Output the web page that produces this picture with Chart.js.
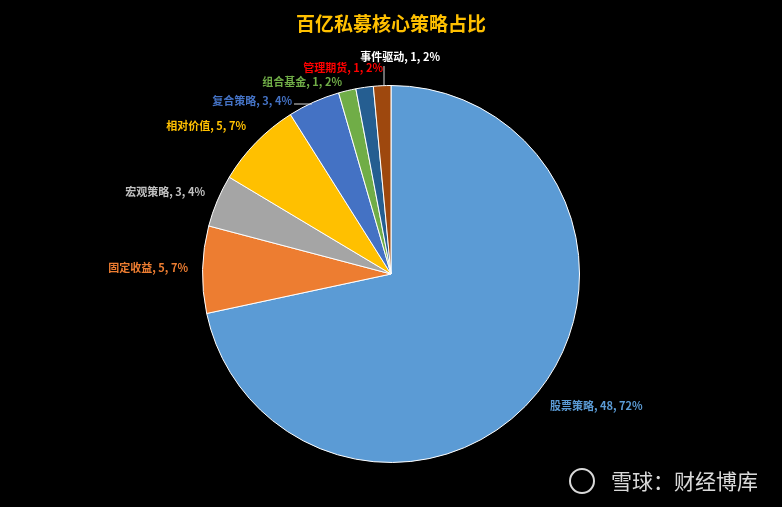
<!DOCTYPE html>
<html><head><meta charset="utf-8">
<script src="https://cdn.jsdelivr.net/npm/chart.js@4"></script>
<style>html,body{margin:0;background:#000;}#w{width:782px;height:507px;}</style>
</head><body><div id="w"><canvas id="c"></canvas></div>
<script>
const categories=['股票策略','固定收益','宏观策略','相对价值','复合策略','组合基金','管理期货','事件驱动'];
const values=[48,5,3,5,3,1,1,1];
const percents=['72%','7%','4%','7%','4%','2%','2%','2%'];
const colors=['#5B9BD5','#ED7D31','#A5A5A5','#FFC000','#4472C4','#70AD47','#255E91','#9E480E'];
const labelColors=['#5B9BD5','#ED7D31','#C0C0C0','#FFC000','#4472C4','#70AD47','#FF0000','#FFFFFF'];
const labelPos=[[550,406,'left'],[188,268,'right'],[205,192,'right'],[246,126,'right'],[292,101,'right'],[342,82,'right'],[383,68,'right'],[440,57,'right']];
const fontF='"Noto Sans CJK SC","Microsoft YaHei",sans-serif';
const deco={id:'deco',afterDraw(ch){
 const c=ch.ctx;c.save();
 c.fillStyle='#FFC000';c.font='bold 19px '+fontF;c.textAlign='center';c.textBaseline='middle';
 c.fillText('百亿私募核心策略占比',391,24);
 c.font='bold 11px '+fontF;c.textBaseline='middle';
 const arcs=ch.getDatasetMeta(0).data;
 arcs.forEach((a,i)=>{const p=labelPos[i];c.fillStyle=labelColors[i];c.textAlign=p[2];
  c.fillText(categories[i]+', '+values[i]+', '+percents[i],p[0],p[1]);});
 c.strokeStyle='#D9D9D9';c.lineWidth=1;c.beginPath();
 c.moveTo(294,104);c.lineTo(312,104);
 c.moveTo(384,66);c.lineTo(384,86);c.stroke();
 c.fillStyle='rgba(255,255,255,0.85)';c.font='21px '+fontF;c.textAlign='right';c.fillText('雪球：财经博库',758,481);
 c.strokeStyle='rgba(255,255,255,0.85)';c.lineWidth=2;c.beginPath();c.arc(582,481,12,0,Math.PI*2);c.stroke();
 c.restore();}};
new Chart(document.getElementById('c'),{type:'pie',
 data:{labels:categories,datasets:[{data:values,backgroundColor:colors,borderColor:'#FFFFFF',borderWidth:1}]},
 options:{responsive:true,maintainAspectRatio:false,animation:false,
  layout:{padding:{top:85,bottom:44}},
  plugins:{legend:{display:false},tooltip:{enabled:false}}},
 plugins:[deco]});
</script></body></html>
